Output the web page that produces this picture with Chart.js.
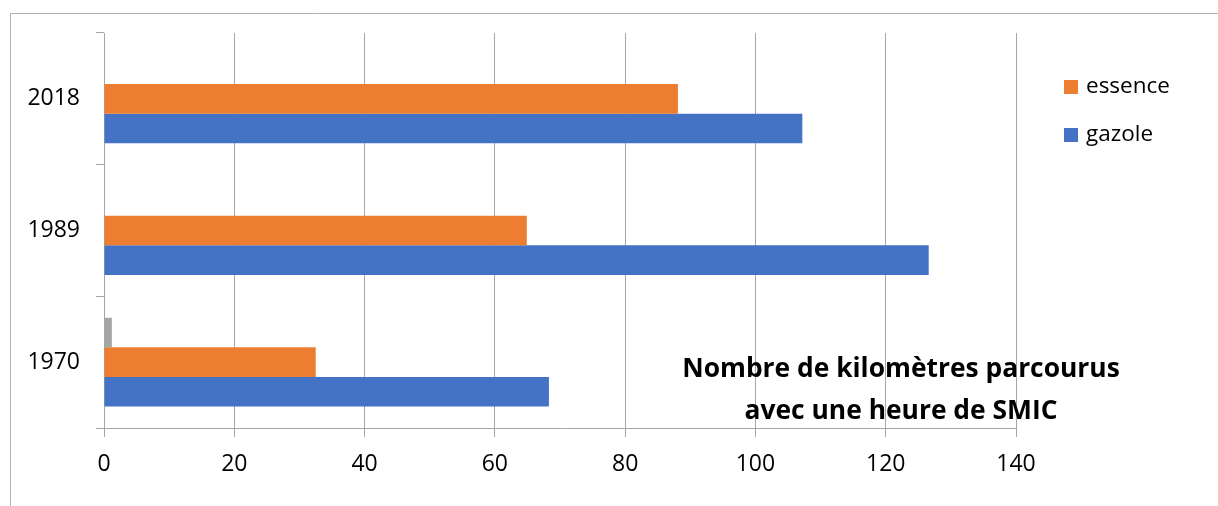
<!DOCTYPE html>
<html>
<head>
<meta charset="utf-8">
<script src="https://cdn.jsdelivr.net/npm/chart.js@4.4.0/dist/chart.umd.min.js"></script>
<style>
  html, body { margin: 0; padding: 0; background: #fff; }
  canvas { display: block; }
</style>
</head>
<body>
<canvas id="chart" width="1218" height="506"></canvas>
<script>
// categories, top to bottom like the original
const years = ['2018', '1989', '1970'];
const gazole = [107.2, 126.6, 68.3];
const essence = [88.1, 64.9, 32.5];
const autre = [null, null, 1.2];   // grey series, not in legend
const xTicks = [0, 20, 40, 60, 80, 100, 120, 140];
const titleLines = ['Nombre de kilomètres parcourus', 'avec une heure de SMIC'];

const font = 'Open Sans';
const gridColor = '#a6a6a6';

// frame around the chart (only left and top visible in the picture)
const framePlugin = {
  id: 'frame',
  beforeDraw(chart) {
    const c = chart.ctx;
    c.save();
    c.strokeStyle = '#b0b0b0';
    c.lineWidth = 1;
    c.beginPath();
    c.moveTo(10.5, 506);
    c.lineTo(10.5, 13.5);
    c.lineTo(1218, 13.5);
    c.stroke();
    c.restore();
  }
};

// legend on the right + title inside the plot area
const extrasPlugin = {
  id: 'extras',
  afterDraw(chart) {
    const c = chart.ctx;
    c.save();
    const items = [1, 2];
    items.forEach((di, i) => {
      const ds = chart.data.datasets[di];
      const y = 87 + i * 48;
      c.fillStyle = ds.backgroundColor;
      c.fillRect(1064, y - 7, 14, 14);
      c.fillStyle = '#000';
      c.font = '22.5px "' + font + '"';
      c.textBaseline = 'middle';
      c.textAlign = 'left';
      c.fillText(ds.label, 1086, y);
    });
    c.font = 'bold 26.4px "' + font + '"';
    c.textAlign = 'center';
    c.fillStyle = '#000';
    titleLines.forEach((t, i) => c.fillText(t, 901, 369 + i * 42));
    c.restore();
  }
};

new Chart(document.getElementById('chart'), {
  type: 'bar',
  data: {
    labels: years,
    datasets: [
      { label: '', data: autre, backgroundColor: '#a5a5a5' },
      { label: 'essence', data: essence, backgroundColor: '#ed7d31' },
      { label: 'gazole', data: gazole, backgroundColor: '#4472c4' }
    ]
  },
  options: {
    indexAxis: 'y',
    responsive: false,
    animation: false,
    categoryPercentage: 0.675,
    barPercentage: 1,
    layout: { padding: { left: 10, top: 33, right: 202, bottom: 0 } },
    plugins: { legend: { display: false }, tooltip: { enabled: false } },
    scales: {
      x: {
        min: 0,
        max: 140,
        afterBuildTicks: s => { s.ticks = xTicks.map(v => ({ value: v })); },
        afterFit: s => { s.height = 78; },
        grid: { color: gridColor, tickLength: 9, tickColor: gridColor },
        border: { color: gridColor },
        ticks: { color: '#000', padding: 14, font: { family: font, size: 23 } }
      },
      y: {
        afterFit: s => { s.width = 94; },
        grid: { drawOnChartArea: false, tickLength: 8, color: gridColor },
        border: { color: gridColor },
        ticks: { color: '#000', padding: 16, font: { family: font, size: 23 } }
      }
    }
  },
  plugins: [framePlugin, extrasPlugin]
});
</script>
</body>
</html>
